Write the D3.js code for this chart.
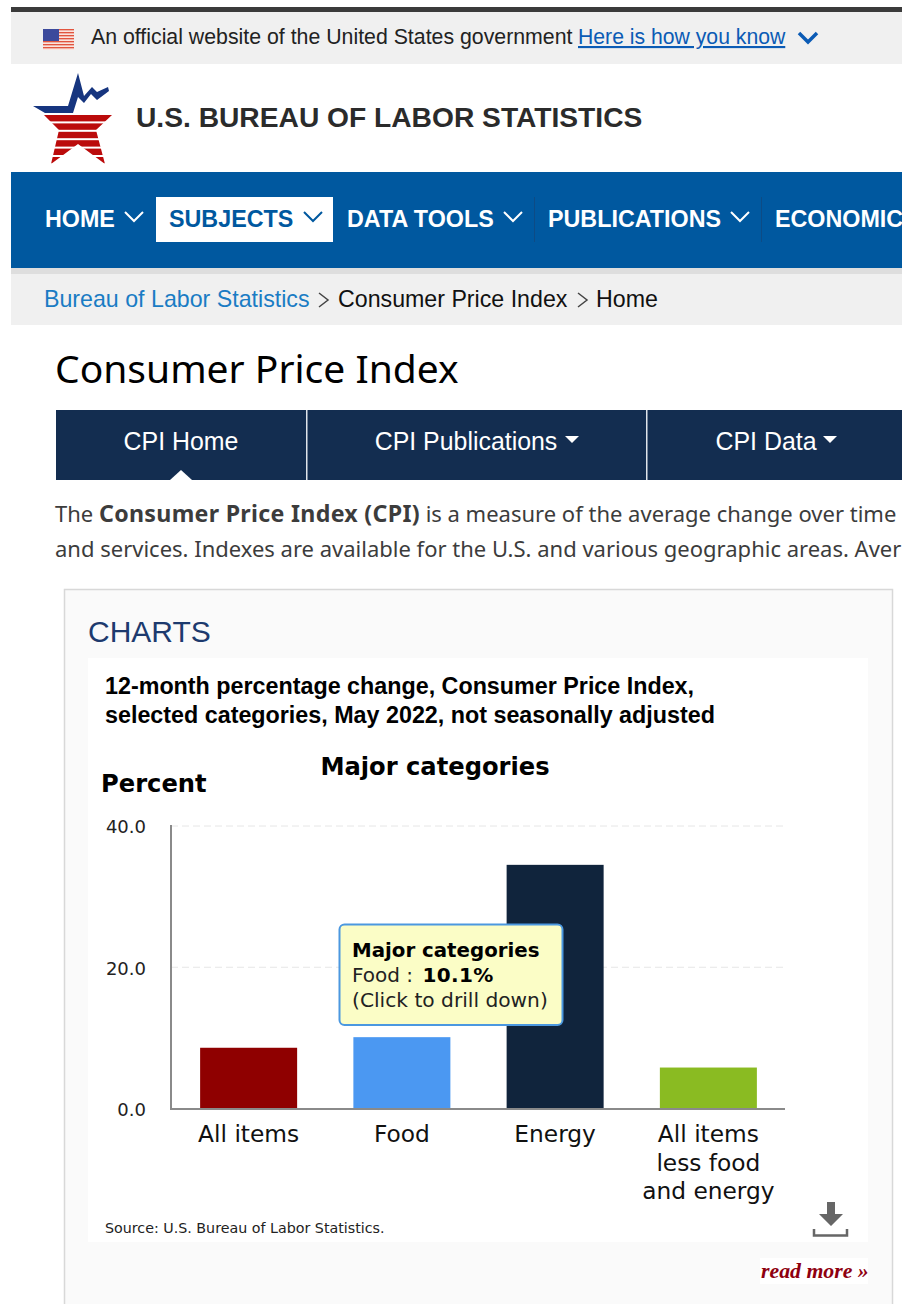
<!DOCTYPE html>
<html>
<head>
<meta charset="utf-8">
<script src="https://cdnjs.cloudflare.com/ajax/libs/d3/7.8.5/d3.min.js"></script>
<style>
  html, body { margin: 0; padding: 0; background: #fff; overflow: hidden; }
  svg { display: block; }
  .axis path, .axis line { display: none; }
</style>
</head>
<body>
<div id="page"></div>
<script>
// Chart data
const categories = ["All items", "Food", "Energy", "All items less food and energy"]
const categoryLines = [["All items"], ["Food"], ["Energy"], ["All items", "less food", "and energy"]]
const percentChange = [8.6, 10.1, 34.5, 5.8]
const barColors = ["#8f0000", "#4b98f2", "#10243c", "#8abb22"]
const yTicks = [0, 20, 40]

// Page chrome text
const navItems = ["HOME", "SUBJECTS", "DATA TOOLS", "PUBLICATIONS", "ECONOMIC"]
const navX = [45, 169, 347, 548, 775]
const navChevronX = [134, 313, 513, 740]
const tabLabels = ["CPI Home", "CPI Publications", "CPI Data"]

const width = 902
const height = 1304
const sans = "'Liberation Sans', Arial, sans-serif"
const verdana = "'DejaVu Sans', Verdana, sans-serif"
const lucida = "'Noto Sans', 'Open Sans', sans-serif"

const svg = d3.select("#page").append("svg")
  .attr("width", width)
  .attr("height", height)
  .attr("viewBox", `0 0 ${width} ${height}`)

function rect(x, y, w, h, fill) {
  return svg.append("rect").attr("x", x).attr("y", y).attr("width", w).attr("height", h).attr("fill", fill)
}

function label(x, y, str, size, fill, family, weight) {
  return svg.append("text")
    .attr("x", x).attr("y", y)
    .attr("font-size", size)
    .attr("font-family", family)
    .attr("font-weight", weight || "normal")
    .attr("fill", fill)
    .text(str)
}

function chevron(x, y, color) {
  svg.append("path")
    .attr("d", `M${x - 9},${y - 5} L${x},${y + 4} L${x + 9},${y - 5}`)
    .attr("fill", "none")
    .attr("stroke", color)
    .attr("stroke-width", 2)
}

// Gov banner
rect(11, 7, 891, 5, "#3b3b3b")
rect(11, 12, 891, 52, "#f0f0f0")
const flagStripes = d3.range(7)
flagStripes.forEach(i => rect(43, 29 + i * 3, 31, 1.6, "#e2553f"))
flagStripes.forEach(i => rect(43, 30.6 + i * 3, 31, 1.4, "#fbe3dd"))
rect(43, 29, 16, 12, "#3c4a9c")
label(91, 44, "An official website of the United States government", 21.3, "#222", sans)
label(578, 44, "Here is how you know", 21.2, "#0b5bb5", sans)
  .attr("text-decoration", "underline")
svg.append("path")
  .attr("d", "M799,33 L808,42 L817,33")
  .attr("fill", "none").attr("stroke", "#0b5bb5").attr("stroke-width", 3.5)

// Logo
svg.append("path")
  .attr("d", "M33,106 L68,106 L78,73 L84,96 L92,87 L97,92 L108,87 L109,91 L97,100 L91,94 L84,103 L78,97 L73,113 L45,113 Z")
  .attr("fill", "#16357f")
const defs = svg.append("defs")
defs.append("clipPath").attr("id", "star-clip").append("path")
  .attr("d", "M44,115 L112,115 L96,130 L105,164 L78,144 L51,164 L59,130 Z")
d3.range(6).forEach(i => {
  svg.append("rect")
    .attr("x", 40).attr("y", 115 + i * 8.4).attr("width", 75).attr("height", 6.4)
    .attr("fill", "#bb0b0b")
    .attr("clip-path", "url(#star-clip)")
})
label(136, 127, "U.S. BUREAU OF LABOR STATISTICS", 28.2, "#2b2b2b", sans, "bold")

// Main nav
rect(11, 172, 891, 96, "#00589f")
rect(11, 268, 891, 6, "#dedede")
rect(156, 197, 177, 45, "#fff")
navItems.forEach((d, i) => {
  label(navX[i], 227, d, 23.3, i === 1 ? "#00589f" : "#fff", sans, "bold")
})
navChevronX.forEach((x, i) => chevron(x, 217, i === 1 ? "#00589f" : "#fff"))
;[534, 761].forEach(x => rect(x, 197, 1, 45, "#0d4b85"))

// Breadcrumb
rect(11, 274, 891, 51, "#f0f0f0")
label(44, 307, "Bureau of Labor Statistics", 23.2, "#1a7cc4", sans)
label(338, 307, "Consumer Price Index", 23.2, "#111", sans)
label(596, 307, "Home", 23.2, "#111", sans)
;[318, 577].forEach(x => {
  svg.append("path")
    .attr("d", `M${x + 1},${293} L${x + 10},${300} L${x + 1},${307}`)
    .attr("fill", "none").attr("stroke", "#444").attr("stroke-width", 1.5)
})

// Heading and tabs
label(55, 383, "Consumer Price Index", 39, "#000", lucida)
rect(56, 410, 846, 70, "#132d50")
;[306, 646].forEach(x => rect(x, 410, 1.5, 70, "#dfe4ea"))
label(181, 450, tabLabels[0], 24.9, "#fff", sans).attr("text-anchor", "middle")
label(466, 450, tabLabels[1], 24.9, "#fff", sans).attr("text-anchor", "middle")
label(766, 450, tabLabels[2], 24.9, "#fff", sans).attr("text-anchor", "middle")
svg.append("path").attr("d", "M181,470 L170,480 L192,480 Z").attr("fill", "#fff")
;[572, 830].forEach(x => {
  svg.append("path").attr("d", `M${x - 7},436 L${x + 7},436 L${x},443 Z`).attr("fill", "#fff")
})

// Intro paragraph, both lines run off the right edge in the source
const intro = svg.append("text")
  .attr("x", 55).attr("y", 522)
  .attr("font-size", 22).attr("font-family", lucida).attr("fill", "#3c3c3c")
intro.append("tspan").text("The ")
intro.append("tspan").attr("font-weight", "bold").attr("font-size", 23.2).attr("letter-spacing", 0.3).text("Consumer Price Index (CPI)")
intro.append("tspan").text(" is a measure of the average change over time")
label(55, 557, "and services. Indexes are available for the U.S. and various geographic areas. Aver", 22, "#3c3c3c", lucida)

// Chart card
rect(64.5, 589.5, 828, 730, "#fafafa").attr("stroke", "#d8d8d8").attr("stroke-width", 1.5)
label(88, 642, "CHARTS", 30, "#1d3a6e", sans)
rect(88, 658, 780, 584, "#fff")
label(105, 694, "12-month percentage change, Consumer Price Index,", 23.3, "#000", sans, "bold")
label(105, 723, "selected categories, May 2022, not seasonally adjusted", 23.3, "#000", sans, "bold")
label(435, 775, "Major categories", 24.2, "#000", verdana, "bold").attr("text-anchor", "middle")
label(101, 792, "Percent", 24.2, "#000", verdana, "bold")

// Scales
const x = d3.scaleBand().domain(categories).range([172, 785]).paddingInner(0.367).paddingOuter(0.1835)
const y = d3.scaleLinear().domain([0, 40]).range([1108.5, 826])

// Grid
svg.append("g").selectAll("line")
  .data(yTicks.filter(d => d > 0))
  .join("line")
  .attr("x1", 171).attr("x2", 784)
  .attr("y1", d => y(d)).attr("y2", d => y(d))
  .attr("stroke", "#e6e6e6")
  .attr("stroke-dasharray", "7,4")

// Bars
svg.append("g").selectAll("rect")
  .data(percentChange)
  .join("rect")
  .attr("x", (d, i) => x(categories[i]))
  .attr("y", d => y(d))
  .attr("width", x.bandwidth())
  .attr("height", d => y(0) - y(d))
  .attr("fill", (d, i) => barColors[i])

// Axis lines
rect(170, 825, 2, 285, "#8a8a8a")
rect(170, 1108, 615, 2, "#8a8a8a")

// Y axis
const yAxis = svg.append("g")
  .attr("class", "axis")
  .attr("transform", "translate(171,1)")
  .call(d3.axisLeft(y).tickValues(yTicks).tickFormat(d3.format(".1f")).tickSize(0).tickPadding(25))
yAxis.selectAll("text")
  .attr("font-size", 18).attr("font-family", verdana).attr("fill", "#222")

// X labels, drawn by hand since the last one wraps to three lines
categories.forEach((c, i) => {
  categoryLines[i].forEach((line, j) => {
    label(x(c) + x.bandwidth() / 2, 1142 + j * 28.5, line, 23.3, "#111", verdana).attr("text-anchor", "middle")
  })
})

// Tooltip
rect(339.5, 924.5, 223, 100.5, "#fbfdc6")
  .attr("rx", 5)
  .attr("stroke", "#4b98e0").attr("stroke-width", 2)
label(352, 957, "Major categories", 19.8, "#000", verdana, "bold")
const tipLine = svg.append("text")
  .attr("x", 352).attr("y", 982)
  .attr("font-size", 20).attr("font-family", verdana).attr("fill", "#222")
tipLine.append("tspan").text("Food : ")
tipLine.append("tspan").attr("dx", 3).attr("font-weight", "bold").attr("fill", "#000").attr("letter-spacing", 0.4).text(`${percentChange[1].toFixed(1)}%`)
label(352, 1007, "(Click to drill down)", 20.2, "#222", verdana)

// Source and download icon
label(105, 1233, "Source: U.S. Bureau of Labor Statistics.", 14.25, "#222", verdana)
svg.append("path")
  .attr("d", "M827,1202 L835,1202 L835,1214 L843,1214 L831,1226 L819,1214 L827,1214 Z")
  .attr("fill", "#666")
svg.append("path")
  .attr("d", "M814,1229 L814,1235.5 L847,1235.5 L847,1229")
  .attr("fill", "none").attr("stroke", "#666").attr("stroke-width", 2.5)

// Read more
rect(760, 1258, 108, 26, "#fff")
label(761, 1278, "read more »", 21.8, "#8f0010", "'Liberation Serif', serif", "bold").attr("font-style", "italic")
</script>
</body>
</html>
